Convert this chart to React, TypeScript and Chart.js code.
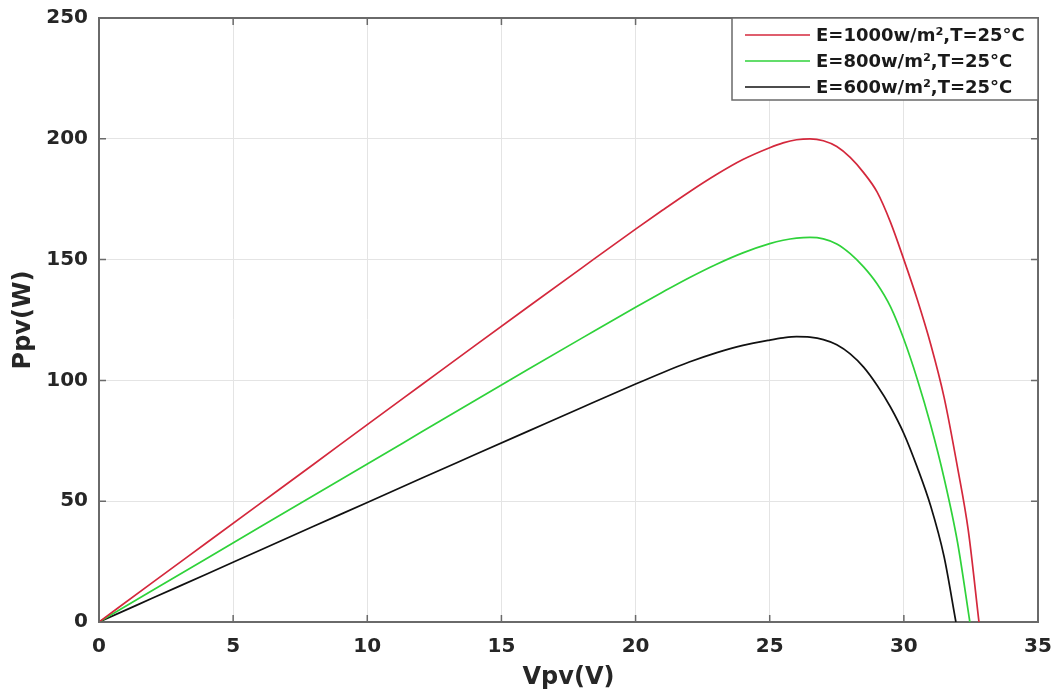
import React, { useEffect, useRef } from "react";
import { Chart, registerables } from "chart.js";

Chart.register(...registerables);

const seriesLabels = ["E=1000w/m²,T=25°C", "E=800w/m²,T=25°C", "E=600w/m²,T=25°C"];
const seriesColors = ["#d4283c", "#2fd23a", "#111111"];

const v1000 = [0, 2, 4, 6, 8, 10, 12, 14, 16, 18, 20, 21, 22, 23, 24, 25, 25.5, 26, 26.5, 27, 27.5, 28, 28.5, 29, 29.5, 30, 30.5, 31, 31.5, 32, 32.4, 32.8];
const p1000 = [0, 16.4, 32.7, 49, 65.3, 81.7, 98, 114.3, 130.5, 146.6, 162.6, 170.4, 178, 185.1, 191.4, 196.3, 198.3, 199.6, 200, 199.2, 196.8, 192.3, 186, 178, 165.5, 150, 133.5, 115, 93, 64, 38, 0];

const v800 = [0, 2, 4, 6, 8, 10, 12, 14, 16, 18, 20, 21, 22, 23, 24, 25, 25.5, 26, 26.5, 27, 27.5, 28, 28.5, 29, 29.5, 30, 30.5, 31, 31.5, 32, 32.46];
const p800 = [0, 13.1, 26.2, 39.3, 52.4, 65.4, 78.5, 91.6, 104.6, 117.5, 130.3, 136.5, 142.5, 148, 152.8, 156.6, 158, 158.9, 159.2, 158.6, 156.5, 152.5, 147, 140, 130.5, 117, 100.5, 81.5, 59.5, 33, 0];

const v600 = [0, 2, 4, 6, 8, 10, 12, 14, 16, 18, 20, 21, 22, 23, 24, 25, 25.5, 26, 26.5, 27, 27.5, 28, 28.5, 29, 29.5, 30, 30.5, 31, 31.5, 31.94];
const p600 = [0, 9.9, 19.8, 29.7, 39.6, 49.5, 59.4, 69.2, 79, 88.8, 98.5, 103.2, 107.6, 111.4, 114.5, 116.7, 117.6, 118.1, 117.9, 116.9, 114.8, 111, 105.5, 98, 89, 78, 64, 48, 27, 0];

const xTickStep = 5;
const yTickStep = 50;
const xMax = 35;
const yMax = 250;

const FONT = "'DejaVu Sans', sans-serif";

const boxPlugin = {
  id: "boxAndLegend",
  afterDraw(chart: any) {
    const { ctx, chartArea } = chart;
    const { left, right, top, bottom } = chartArea;
    const xs = chart.scales.x;
    const ys = chart.scales.y;
    ctx.save();
    // top and right borders
    ctx.strokeStyle = "#6a6a6a";
    ctx.lineWidth = 2;
    ctx.beginPath();
    ctx.moveTo(left, top);
    ctx.lineTo(right, top);
    ctx.lineTo(right, bottom);
    ctx.stroke();
    // inward ticks
    ctx.lineWidth = 1.5;
    ctx.beginPath();
    xs.ticks.forEach((t: any) => {
      const px = xs.getPixelForValue(t.value);
      ctx.moveTo(px, bottom);
      ctx.lineTo(px, bottom - 7);
      ctx.moveTo(px, top);
      ctx.lineTo(px, top + 7);
    });
    ys.ticks.forEach((t: any) => {
      const py = ys.getPixelForValue(t.value);
      ctx.moveTo(left, py);
      ctx.lineTo(left + 7, py);
      ctx.moveTo(right, py);
      ctx.lineTo(right - 7, py);
    });
    ctx.stroke();

    // legend
    const ds = chart.data.datasets;
    const boxW = 306;
    const rowH = 26;
    const boxL = right - boxW;
    const boxT = top;
    const boxH = 4 + rowH * ds.length;
    ctx.fillStyle = "#ffffff";
    ctx.fillRect(boxL, boxT, boxW, boxH);
    ctx.strokeStyle = "#6a6a6a";
    ctx.lineWidth = 1.5;
    ctx.strokeRect(boxL, boxT, boxW, boxH);
    ctx.font = "bold 18px " + FONT;
    ctx.textBaseline = "middle";
    ctx.textAlign = "left";
    ds.forEach((d: any, i: number) => {
      const y = boxT + 17 + i * rowH;
      ctx.strokeStyle = d.borderColor;
      ctx.lineWidth = 1.6;
      ctx.beginPath();
      ctx.moveTo(boxL + 13, y);
      ctx.lineTo(boxL + 78, y);
      ctx.stroke();
      ctx.fillStyle = "#1a1a1a";
      ctx.fillText(d.label, boxL + 84, y + 1);
    });
    ctx.restore();
  },
};

function toPoints(xs: number[], ys: number[]) {
  return xs.map((x, i) => ({ x, y: ys[i] }));
}

export default function App() {
  const ref = useRef<HTMLCanvasElement | null>(null);
  useEffect(() => {
    document.body.style.margin = "0";
    const canvas = ref.current!;
    const chart = new Chart(canvas, {
      type: "line",
      data: {
        datasets: [
          { label: seriesLabels[0], data: toPoints(v1000, p1000), borderColor: seriesColors[0] },
          { label: seriesLabels[1], data: toPoints(v800, p800), borderColor: seriesColors[1] },
          { label: seriesLabels[2], data: toPoints(v600, p600), borderColor: seriesColors[2] },
        ].map((d) => ({
          ...d,
          borderWidth: 1.7,
          pointRadius: 0,
          fill: false,
          cubicInterpolationMode: "monotone" as const,
          backgroundColor: d.borderColor,
        })),
      },
      options: {
        animation: false,
        responsive: false,
        layout: { padding: { left: 0, right: 18, top: 18, bottom: 0 } },
        plugins: { legend: { display: false }, tooltip: { enabled: false } },
        scales: {
          x: {
            type: "linear",
            min: 0,
            max: xMax,
            ticks: {
              stepSize: xTickStep,
              color: "#262626",
              font: { family: FONT, size: 20, weight: "bold" },
              padding: 13,
            },
            grid: { color: "#e4e4e4", lineWidth: 1, drawTicks: false },
            border: { display: true, color: "#6a6a6a", width: 2 },
            title: {
              display: true,
              text: "Vpv(V)",
              color: "#262626",
              font: { family: FONT, size: 24, weight: "bold" },
              padding: { top: 0, bottom: 2 },
            },
            afterFit: (s: any) => {
              s.height = 72;
              s.paddingLeft = 0;
              s.paddingRight = 0;
            },
          },
          y: {
            type: "linear",
            min: 0,
            max: yMax,
            ticks: {
              stepSize: yTickStep,
              color: "#262626",
              font: { family: FONT, size: 20, weight: "bold" },
              padding: 11,
            },
            grid: { color: "#e4e4e4", lineWidth: 1, drawTicks: false },
            border: { display: true, color: "#6a6a6a", width: 2 },
            title: {
              display: true,
              text: "Ppv(W)",
              color: "#262626",
              font: { family: FONT, size: 24, weight: "bold" },
              padding: { top: 9, bottom: 0 },
            },
            afterFit: (s: any) => {
              s.width = 99;
              s.paddingTop = 0;
              s.paddingBottom = 0;
            },
          },
        },
      },
      plugins: [boxPlugin],
    });
    return () => chart.destroy();
  }, []);
  return <canvas ref={ref} width={1056} height={694} style={{ display: "block" }} />;
}
